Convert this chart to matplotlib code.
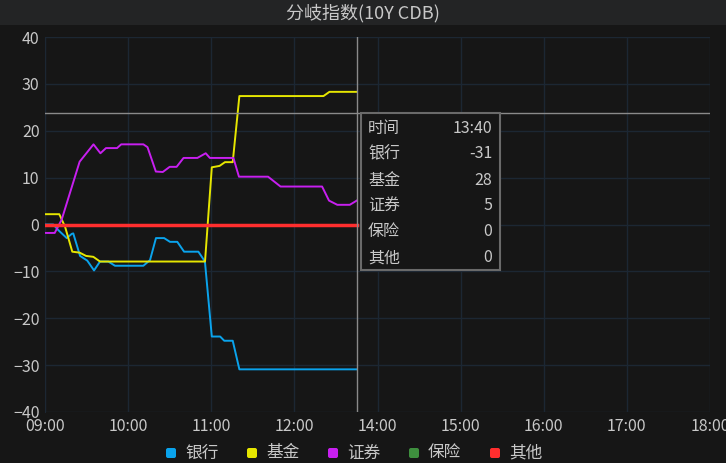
import matplotlib.pyplot as plt
from matplotlib.patches import FancyBboxPatch, Rectangle
import numpy as np

plt.rcParams['font.family'] = ['Noto Sans CJK SC', 'DejaVu Sans']

# x = minutes on the (lunch-compressed) axis since 09:00
tick_labels = ["09:00", "10:00", "11:00", "12:00", "14:00", "15:00", "16:00", "17:00", "18:00"]

bank_t = [0, 6, 9.6, 15.7, 19.3, 20.4, 25.3, 30.5, 35.4, 39.7, 45.7, 50.5, 71, 75.8, 80.1, 86,
          90.2, 95.5, 100.4, 110.7, 114.8, 115.5, 120.4, 126.4, 129.4, 135.5, 140.3, 225]
bank_v = [0, 0, -1.2, -2.9, -2, -1.9, -6.7, -7.7, -9.8, -7.9, -7.9, -8.8, -8.8, -7.6, -2.9, -2.9,
          -3.7, -3.7, -5.8, -5.8, -7.6, -8.1, -23.9, -23.9, -24.8, -24.8, -30.9, -30.9]

fund_t = [0, 10.3, 14.5, 19.7, 25, 29.6, 34.9, 39.7, 114.8, 115.5, 120.4, 126, 129.9, 135.5,
          140.3, 201, 205.3, 225]
fund_v = [2.2, 2.2, -0.5, -5.8, -6, -6.7, -6.9, -7.9, -7.9, -7.9, 12.2, 12.5, 13.3, 13.3,
          27.4, 27.4, 28.3, 28.3]

sec_t = [0, 7, 12, 25, 35, 40, 44, 52, 55, 71, 74, 80, 85, 90, 95, 100, 110, 116, 119, 136,
         140, 161, 170, 200, 205, 211, 220, 225]
sec_v = [-1.8, -1.8, 1, 13.4, 17.1, 15.2, 16.3, 16.3, 17.1, 17.1, 16.5, 11.3, 11.2, 12.3, 12.3,
         14.2, 14.2, 15.2, 14.2, 14.2, 10.2, 10.2, 8.1, 8.1, 5.1, 4.2, 4.2, 5.1]

ins_t = [0, 225]
ins_v = [0, 0]

other_t = [0, 225]
other_v = [0, 0]

names = ["银行", "基金", "证券", "保险", "其他"]
colors = ["#0aa3ec", "#e6e600", "#c81ff0", "#3e8f3e", "#ff2e2e"]

cursor_time = "13:40"
cursor_x = 225
cursor_y = 23.8

BG = "#161616"
GRID = "#1c2733"
TXT = "#c8c8c8"

fig = plt.figure(figsize=(7.26, 4.63), dpi=100, facecolor=BG)
fig.patches.append(Rectangle((0, 1 - 25 / 463), 1, 25 / 463, transform=fig.transFigure,
                             facecolor="#232425", edgecolor="none", zorder=0))
fig.text(0.5, 1 - 13 / 463, "分岐指数(10Y CDB)", ha="center", va="center", color=TXT, fontsize=13)

ax = fig.add_axes([45 / 726, 51 / 463, 665 / 726, 375 / 463])
ax.set_facecolor(BG)
ax.set_xlim(0, 480)
ax.set_ylim(-40, 40)
ax.set_xticks(np.arange(0, 481, 60))
ax.set_xticklabels(tick_labels)
ax.set_yticks(np.arange(-40, 41, 10))
ax.tick_params(colors=TXT, labelsize=11.5, length=0, pad=4)
ax.grid(True, color=GRID, lw=1)
for s in ["top", "right", "bottom"]:
    ax.spines[s].set_visible(False)
ax.spines["left"].set_color(GRID)

series = [(bank_t, bank_v), (fund_t, fund_v), (sec_t, sec_v), (ins_t, ins_v), (other_t, other_v)]
for (t, v), c, n in zip(series, colors, names):
    lw = 2.5 if n == "其他" else 1.4
    ax.plot(t, v, color=c, lw=lw, zorder=3)

# crosshair
ax.axvline(cursor_x, color="#8a8a8a", lw=1, zorder=4)
ax.axhline(cursor_y, color="#8a8a8a", lw=1, zorder=4)

# tooltip
x0, x1 = 361 / 726, 500 / 726
y0, y1 = 1 - 270 / 463, 1 - 113 / 463
fig.patches.append(Rectangle((x0, y0), x1 - x0, y1 - y0, transform=fig.transFigure,
                             facecolor=BG, edgecolor="#6a6a6a", lw=1.5, zorder=5))
rows = [("时间", cursor_time)] + [(n, "%d" % round(v[-1])) for n, (t, v) in zip(names, series)]
for i, (lab, val) in enumerate(rows):
    yy = 1 - (128 + i * 26) / 463
    fig.text(368 / 726, yy, lab, ha="left", va="center", color=TXT, fontsize=11.5, zorder=6)
    fig.text(492 / 726, yy, val, ha="right", va="center", color=TXT, fontsize=11.5, zorder=6)

# legend (squares sized in inches -> 1 px = 0.01 in)
for i, (n, c) in enumerate(zip(names, colors)):
    lx = 166 + i * 81
    fig.patches.append(FancyBboxPatch((lx / 100, (463 - 458) / 100), 0.10, 0.10,
                                      boxstyle="round,pad=0,rounding_size=0.02",
                                      transform=fig.dpi_scale_trans, facecolor=c, edgecolor="none"))
    fig.text((lx + 19) / 726, 1 - 453 / 463, n, ha="left", va="center", color=TXT, fontsize=12)

fig.savefig("out.png", dpi=100, facecolor=BG)
